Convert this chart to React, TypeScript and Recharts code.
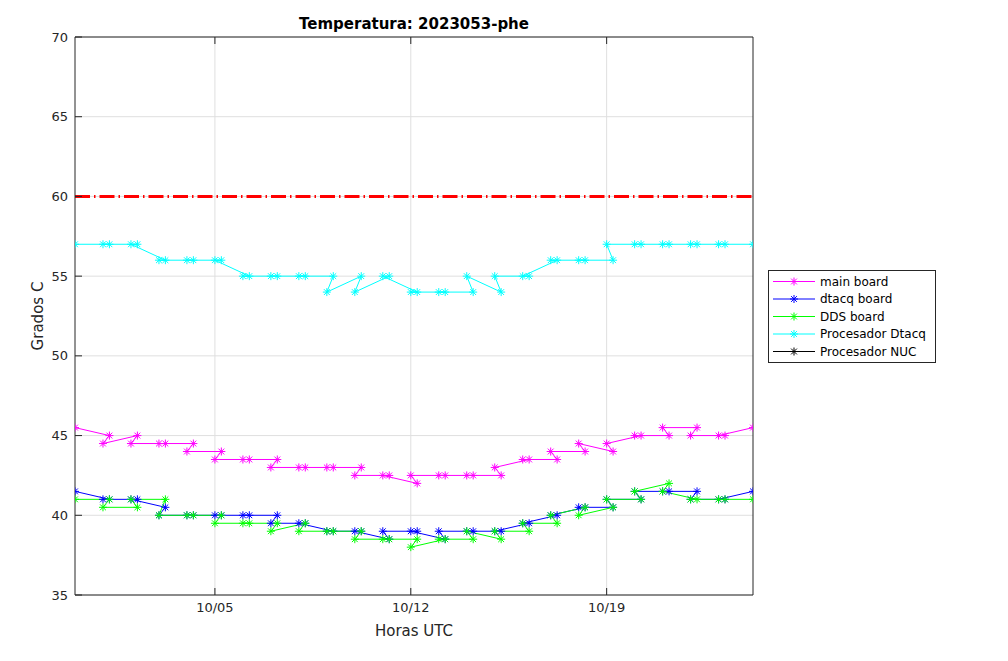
import React from 'react';
import { LineChart, Line, XAxis, YAxis, CartesianGrid, ReferenceLine, Legend } from 'recharts';

// time in days since 2023-09-30 00:00 (samples in recorded order)
const times = [
  0, 1.23, 1, 2.23, 2, 3.23, 3, 4.23, 4, 5.23, 5, 6.23, 6, 7.23, 7, 8.23, 8, 9.23, 9,
  10.23, 10, 11.23, 11, 12.23, 12, 13.23, 13, 14.23, 14, 15.23, 15, 16.23, 16, 17.23, 17,
  18.23, 18, 19.23, 19, 20.23, 20, 21.23, 21, 22.23, 22, 23.23, 23, 24.23,
];

const mainBoard = [
  45.5, 45, 44.5, 45, 44.5, 44.5, 44.5, 44.5, 44, 44, 43.5, 43.5, 43.5, 43.5, 43, 43, 43, 43, 43,
  43, 42.5, 42.5, 42.5, 42, 42.5, 42.5, 42.5, 42.5, 42.5, 42.5, 43, 43.5, 43.5, 43.5, 44,
  44, 44.5, 44, 44.5, 45, 45, 45, 45.5, 45.5, 45, 45, 45, 45.5,
];

const dtacqBoard = [
  41.5, 41, 41, 41, 41, 40.5, 40, 40, 40, 40, 40, 40, 40, 40, 39.5, 39.5, 39.5, 39, 39,
  39, 39, 38.5, 39, 39, 39, 38.5, 39, 39, 39, 39, 39, 39.5, 39.5, 40, 40,
  40.5, 40.5, 40.5, 41, 41, 41.5, 41.5, 41.5, 41.5, 41, 41, 41, 41.5,
];

const ddsBoard = [
  41, 41, 40.5, 40.5, 41, 41, 40, 40, 40, 40, 39.5, 39.5, 39.5, 39.5, 39, 39.5, 39, 39, 39,
  39, 38.5, 38.5, 38.5, 38.5, 38, 38.5, 38.5, 38.5, 39, 38.5, 39, 39, 39.5, 39.5, 40,
  40.5, 40, 40.5, 41, 41, 41.5, 42, 41.5, 41, 41, 41, 41, 41,
];

const procDtacq = [
  57, 57, 57, 57, 57, 56, 56, 56, 56, 56, 56, 55, 55, 55, 55, 55, 55, 55, 54,
  55, 54, 55, 55, 54, 54, 54, 54, 54, 55, 54, 55, 55, 55, 56, 56,
  56, 56, 56, 57, 57, 57, 57, 57, 57, 57, 57, 57, 57,
];

const procNuc: number[] = [];

const seriesKeys = ['main', 'dtacq', 'dds', 'cpu', 'nuc'];
const seriesNames = ['main board', 'dtacq board', 'DDS board', 'Procesador Dtacq', 'Procesador NUC'];
const seriesColors = ['#ff00ff', '#0000ff', '#00ff00', '#00ffff', '#000000'];

const xTicks = [5, 12, 19];
const xTickLabels = ['10/05', '10/12', '10/19'];
const yTicks = [35, 40, 45, 50, 55, 60, 65, 70];
const threshold = 60;

const data = times.map((t, i) => ({
  t,
  main: mainBoard[i],
  dtacq: dtacqBoard[i],
  dds: ddsBoard[i],
  cpu: procDtacq[i],
  nuc: procNuc[i],
}));

const FONT = 'DejaVu Sans, sans-serif';
const TXT = '#262626';

const StarShape = ({ cx, cy, stroke }: { cx?: number; cy?: number; stroke?: string }) => {
  if (cx == null || cy == null || isNaN(cx) || isNaN(cy)) return <g />;
  const r = 4;
  const d = 2.9;
  return (
    <g stroke={stroke} strokeWidth={1} fill="none">
      <line x1={cx - r} y1={cy} x2={cx + r} y2={cy} />
      <line x1={cx} y1={cy - r} x2={cx} y2={cy + r} />
      <line x1={cx - d} y1={cy - d} x2={cx + d} y2={cy + d} />
      <line x1={cx - d} y1={cy + d} x2={cx + d} y2={cy - d} />
    </g>
  );
};

const LegendBox = () => (
  <svg width={168} height={93} style={{ display: 'block' }}>
    <rect x={0.5} y={0.5} width={167} height={92} fill="#fff" stroke={TXT} strokeWidth={1} />
    {seriesNames.map((name, i) => {
      const y = 11.5 + i * 17.5;
      return (
        <g key={name}>
          <line x1={5} y1={y} x2={47} y2={y} stroke={seriesColors[i]} strokeWidth={1} />
          <StarShape cx={26} cy={y} stroke={seriesColors[i]} />
          <text x={52} y={y} dy="0.35em" fontSize={12} fontFamily={FONT} fill="#000">
            {name}
          </text>
        </g>
      );
    })}
  </svg>
);

export default function App() {
  return (
    <div style={{ position: 'absolute', left: 0, top: 0, width: 1008, height: 661, background: '#fff' }}>
      <LineChart
        width={1008}
        height={661}
        data={data}
        margin={{ top: 36, right: 254, bottom: 36, left: 35 }}
      >
        <CartesianGrid stroke="#dfdfdf" strokeWidth={1} horizontalValues={yTicks} verticalValues={xTicks} />
        <XAxis
          dataKey="t"
          type="number"
          domain={[0, 24.23]}
          allowDataOverflow
          ticks={xTicks}
          interval={0}
          tickFormatter={(v: number) => xTickLabels[xTicks.indexOf(v)] ?? ''}
          height={30}
          tickSize={-7}
          tickMargin={15}
          stroke={TXT}
          tick={{ fill: TXT, fontSize: 13, fontFamily: FONT }}
        />
        <XAxis
          xAxisId="top"
          orientation="top"
          dataKey="t"
          type="number"
          domain={[0, 24.23]}
          allowDataOverflow
          ticks={xTicks}
          interval={0}
          height={1}
          tickSize={-7}
          tickFormatter={() => ''}
          stroke={TXT}
        />
        <YAxis
          type="number"
          domain={[35, 70]}
          ticks={yTicks}
          interval={0}
          width={40}
          tickSize={-7}
          tickMargin={14}
          stroke={TXT}
          tick={{ fill: TXT, fontSize: 13, fontFamily: FONT }}
        />
        <YAxis
          yAxisId="right"
          orientation="right"
          type="number"
          domain={[35, 70]}
          ticks={yTicks}
          interval={0}
          width={1}
          tickSize={-7}
          tickFormatter={() => ''}
          stroke={TXT}
        />
        <ReferenceLine
          y={threshold}
          stroke="#ff0000"
          strokeWidth={3}
          strokeDasharray="15 4 1.5 4"
        />
        {seriesKeys.map((k, i) => (
          <Line
            key={k}
            dataKey={k}
            name={seriesNames[i]}
            stroke={seriesColors[i]}
            strokeWidth={1}
            isAnimationActive={false}
            connectNulls={false}
            dot={(p: any) => <StarShape key={`${k}-${p.index}`} cx={p.cx} cy={p.cy} stroke={seriesColors[i]} />}
            activeDot={false}
          />
        ))}
        <Legend
          layout="vertical"
          align="center"
          verticalAlign="middle"
          wrapperStyle={{ left: 768, top: 270, width: 168, height: 93 }}
          content={() => <LegendBox />}
        />
      </LineChart>
      <div
        style={{
          position: 'absolute', left: 0, top: 15, width: 828, textAlign: 'center',
          fontFamily: FONT, fontWeight: 'bold', fontSize: 15, lineHeight: '18px', color: '#000',
        }}
      >
        Temperatura: 2023053-phe
      </div>
      <div
        style={{
          position: 'absolute', left: 0, top: 622, width: 828, textAlign: 'center',
          fontFamily: FONT, fontSize: 15, lineHeight: '18px', color: TXT,
        }}
      >
        Horas UTC
      </div>
      <div
        style={{
          position: 'absolute', left: 38 - 60, top: 316 - 9, width: 120, textAlign: 'center',
          fontFamily: FONT, fontSize: 15, lineHeight: '18px', color: TXT,
          transform: 'rotate(-90deg)', transformOrigin: '60px 9px',
        }}
      >
        Grados C
      </div>
    </div>
  );
}
